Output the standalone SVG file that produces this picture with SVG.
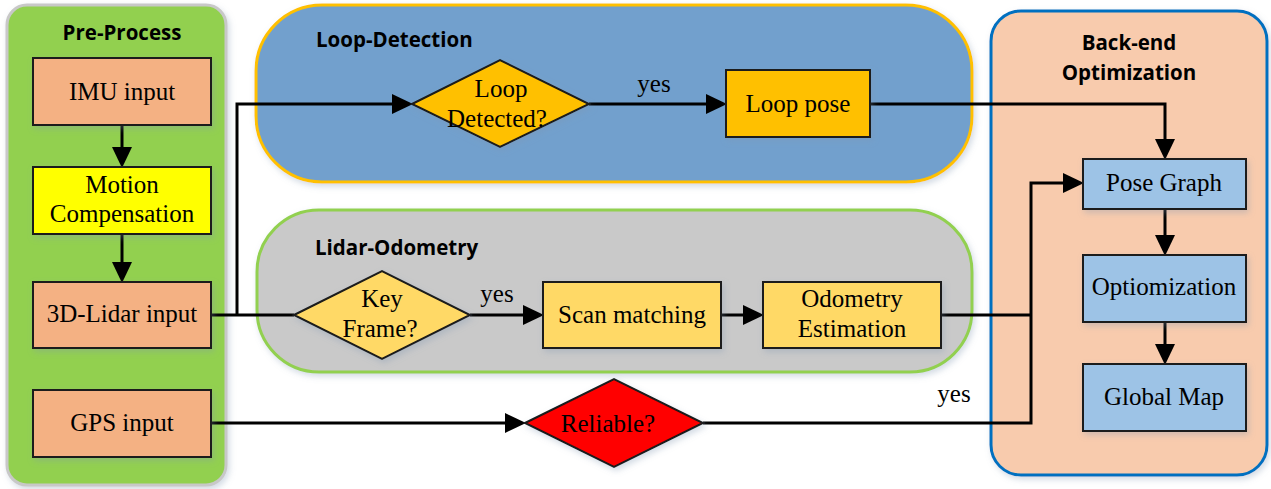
<svg xmlns="http://www.w3.org/2000/svg" width="1271" height="489" viewBox="0 0 1271 489">
<defs>
<style>
.t{font-family:"Liberation Serif","Times New Roman",serif;font-size:25px;fill:#000;text-anchor:middle}
.h{font-family:"Open Sans","Liberation Sans",sans-serif;font-size:20.5px;font-weight:bold;fill:#000}
.box{stroke:#1a1a1a;stroke-width:2;filter:url(#sh)}
.c{fill:none;stroke:#000;stroke-width:3}
.a{marker-end:url(#ah)}
</style>
<filter id="sh" x="-10%" y="-10%" width="125%" height="135%">
<feDropShadow dx="2" dy="3" stdDeviation="3" flood-color="#7f94b0" flood-opacity="0.35"/>
</filter>
<marker id="ah" markerUnits="userSpaceOnUse" markerWidth="21" markerHeight="21" refX="10" refY="10" orient="auto" viewBox="0 0 21 20">
<path d="M0,0 L21,10 L0,20 z" fill="#000"/>
</marker>
</defs>

<g id="pre-process">
<rect x="7" y="5" width="219" height="480" rx="20" fill="#92D050" stroke="#C8C8C8" stroke-width="3" filter="url(#sh)"/>
<text class="h" x="122" y="40" text-anchor="middle">Pre-Process</text>
</g>
<g id="loop-detection">
<rect x="256" y="5" width="716" height="177" rx="66" fill="#72A0CD" stroke="#FFC000" stroke-width="3" filter="url(#sh)"/>
<text class="h" x="316" y="47">Loop-Detection</text>
</g>
<g id="lidar-odometry">
<rect x="257" y="210" width="715" height="162" rx="62" fill="#C9C9C9" stroke="#92D050" stroke-width="3" filter="url(#sh)"/>
<text class="h" x="315" y="255">Lidar-Odometry</text>
</g>
<g id="back-end">
<rect x="991" y="11" width="276" height="464" rx="30" fill="#F8CBAD" stroke="#0070C0" stroke-width="3" filter="url(#sh)"/>
<text class="h" x="1129" y="50" text-anchor="middle">Back-end</text>
<text class="h" x="1129" y="80" text-anchor="middle">Optimization</text>
</g>

<g id="connectors">
<path class="c a" d="M122,125 V157"/>
<path class="c a" d="M122,234 V272"/>
<path class="c" d="M211,315 H294"/>
<path class="c a" d="M237,315 V104 H402"/>
<path class="c a" d="M589,104 H716"/>
<path class="c a" d="M870,104 H1165 V149"/>
<path class="c a" d="M470,315 H533"/>
<path class="c a" d="M721,315 H753"/>
<path class="c" d="M941,315 H1031"/>
<path class="c a" d="M211,423 H515"/>
<path class="c a" d="M703,423 H1031 V183 H1073"/>
<path class="c a" d="M1165,209 V245"/>
<path class="c a" d="M1165,322 V354"/>
<text class="t" x="654" y="92">yes</text>
<text class="t" x="497" y="302">yes</text>
<text class="t" x="954" y="402">yes</text>
</g>

<g id="imu-input">
<rect class="box" x="33" y="58" width="178" height="67" fill="#F4B183"/>
<text class="t" x="122" y="99.5">IMU input</text>
</g>
<g id="motion-compensation">
<rect class="box" x="33" y="167" width="178" height="67" fill="#FFFF00"/>
<text class="t" x="122" y="193">Motion</text>
<text class="t" x="122" y="222">Compensation</text>
</g>
<g id="lidar-input">
<rect class="box" x="33" y="282" width="178" height="66" fill="#F4B183"/>
<text class="t" x="122" y="322">3D-Lidar input</text>
</g>
<g id="gps-input">
<rect class="box" x="33" y="390" width="178" height="67" fill="#F4B183"/>
<text class="t" x="122" y="431">GPS input</text>
</g>
<g id="loop-detected">
<polygon class="box" points="412,104 500,60 589,104 500,147" fill="#FFC000"/>
<text class="t" x="501" y="97">Loop</text>
<text class="t" x="497" y="127">Detected?</text>
</g>
<g id="loop-pose">
<rect class="box" x="726" y="70" width="144" height="67" fill="#FFC000"/>
<text class="t" x="798" y="112">Loop pose</text>
</g>
<g id="key-frame">
<polygon class="box" points="294,315 382,271 470,315 382,359" fill="#FFD966"/>
<text class="t" x="382" y="307">Key</text>
<text class="t" x="380" y="337">Frame?</text>
</g>
<g id="scan-matching">
<rect class="box" x="543" y="282" width="178" height="66" fill="#FFD966"/>
<text class="t" x="632" y="323">Scan matching</text>
</g>
<g id="odometry-estimation">
<rect class="box" x="763" y="282" width="178" height="66" fill="#FFD966"/>
<text class="t" x="852" y="307">Odometry</text>
<text class="t" x="852" y="337">Estimation</text>
</g>
<g id="reliable">
<polygon class="box" points="525,423 614,379 703,423 614,467" fill="#FF0000"/>
<text class="t" x="608" y="432">Reliable?</text>
</g>
<g id="pose-graph">
<rect class="box" x="1083" y="159" width="163" height="50" fill="#9DC3E6"/>
<text class="t" x="1164" y="191">Pose Graph</text>
</g>
<g id="optimization">
<rect class="box" x="1083" y="255" width="163" height="67" fill="#9DC3E6"/>
<text class="t" x="1164" y="295">Optiomization</text>
</g>
<g id="global-map">
<rect class="box" x="1083" y="364" width="163" height="67" fill="#9DC3E6"/>
<text class="t" x="1164" y="405">Global Map</text>
</g>
</svg>
